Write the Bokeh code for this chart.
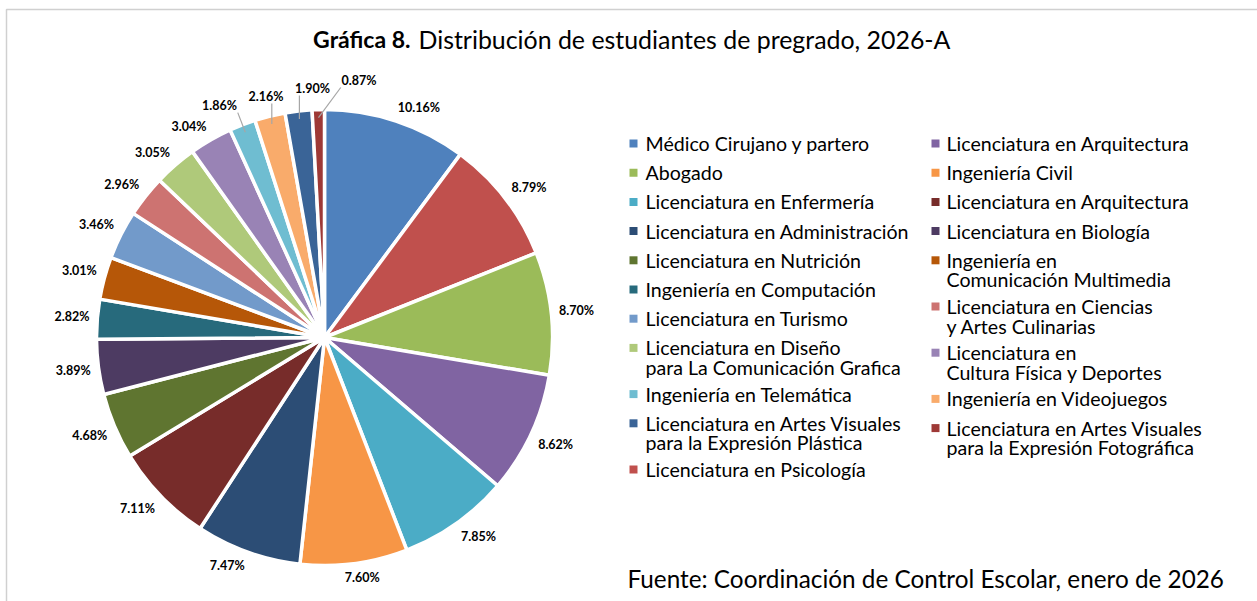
import numpy as np
from bokeh.plotting import figure
from bokeh.models import ColumnDataSource, Range1d
from bokeh.embed import file_html
from bokeh.resources import INLINE
from bokeh.core.properties import value

# ---------------- data ----------------
careers = [
    "Médico Cirujano y partero",
    "Licenciatura en Psicología",
    "Abogado",
    "Licenciatura en Arquitectura",
    "Licenciatura en Enfermería",
    "Ingeniería Civil",
    "Licenciatura en Administración",
    "Licenciatura en Arquitectura",
    "Licenciatura en Nutrición",
    "Licenciatura en Biología",
    "Ingeniería en Computación",
    "Ingeniería en\nComunicación Multimedia",
    "Licenciatura en Turismo",
    "Licenciatura en Ciencias\ny Artes Culinarias",
    "Licenciatura en Diseño\npara La Comunicación Grafica",
    "Licenciatura en\nCultura Física y Deportes",
    "Ingeniería en Telemática",
    "Ingeniería en Videojuegos",
    "Licenciatura en Artes Visuales\npara la Expresión Plástica",
    "Licenciatura en Artes Visuales\npara la Expresión Fotográfica",
]
shares = [10.16, 8.79, 8.70, 8.62, 7.85, 7.60, 7.47, 7.11, 4.68, 3.89,
          2.82, 3.01, 3.46, 2.96, 3.05, 3.04, 1.86, 2.16, 1.90, 0.87]
colors = ["#4F81BD", "#C0504D", "#9BBB59", "#8064A2", "#4BACC6", "#F79646",
          "#2C4D75", "#772C2A", "#5F7530", "#4D3B62", "#276A7C", "#B65708",
          "#729ACA", "#CD7371", "#AFC97A", "#9983B5", "#6FBDD1", "#F9AB6B",
          "#3A6497", "#9E3936"]
legend_left = [0, 2, 4, 6, 8, 10, 12, 14, 16, 18, 1]
legend_right = [3, 5, 7, 9, 11, 13, 15, 17, 19]
title_bold = "Gráfica 8."
title_rest = "Distribución de estudiantes de pregrado, 2026-A"
source_note = "Fuente: Coordinación de Control Escolar, enero de 2026"

# ---------------- layout ----------------
W, H = 1257, 601
FONT = value("Lato")


def X(px):
    return px


def Y(py):
    return H - py


p = figure(width=W, height=H, x_range=Range1d(0, W), y_range=Range1d(0, H),
           output_backend="svg", toolbar_location=None, min_border=0)
p.axis.visible = False
p.grid.visible = False
p.outline_line_color = None
p.background_fill_color = "white"
p.border_fill_color = "white"

# chart frame (left and top edges visible as in the reference)
p.quad(left=[X(6)], right=[X(W + 40)], top=[Y(9)], bottom=[Y(H + 40)],
       fill_color=None, line_color="#D0D0D0", line_width=1.5)

# pie
cx, cy, R = X(324), Y(337), 228
vals = np.array(shares, dtype=float)
frac = vals / vals.sum()
cum = np.concatenate([[0.0], np.cumsum(frac)])
start = np.pi / 2 - 2 * np.pi * cum[:-1]
end = np.pi / 2 - 2 * np.pi * cum[1:]
pie_src = ColumnDataSource(dict(start=start, end=end, color=colors))
p.wedge(x=cx, y=cy, radius=R, start_angle="start", end_angle="end",
        direction="clock", fill_color="color", line_color="white",
        line_width=3.5, source=pie_src)

# data labels
mid = np.pi / 2 - 2 * np.pi * (cum[:-1] + frac / 2)
dx, dy = np.cos(mid), np.sin(mid)
texts = [f"{v:.2f}%" for v in shares]
hw = np.array([len(t) * 3.65 for t in texts])
hh = 7.0
small = vals < 2.2
g = np.where(small, 13.0, 7.0)
ex, ey = cx + R * dx, cy + R * dy
lx = ex + g * dx + hw * np.clip(3 * dx, -1, 1)
ly = ey + g * dy + hh * np.clip(3 * dy, -1, 1)
prev = None
for i in range(len(vals)):
    if small[i]:
        if prev is not None:
            lx[i] = max(lx[i], lx[prev] + hw[prev] + hw[i] + 10)
            ly[i] = max(ly[i], ly[prev] + 8)
        prev = i
p.text(x=lx, y=ly, text=texts, text_align="center", text_baseline="middle",
       text_font=FONT, text_font_size="12.5px", text_font_style="bold",
       text_color="#000000")

# leader lines for displaced small labels
xs, ys = [], []
for i in np.where(small)[0]:
    sx, sy = cx + (R - 8) * dx[i], cy + (R - 8) * dy[i]
    bx = min(max(sx, lx[i] - hw[i]), lx[i] + hw[i])
    by = min(max(sy, ly[i] - hh), ly[i] + hh)
    xs.append([sx, bx])
    ys.append([sy, by])
p.multi_line(xs=xs, ys=ys, line_color="#A6A6A6", line_width=1.2)

# title
p.text(x=[X(410)], y=[Y(38)], text=[title_bold], text_align="right",
       text_baseline="middle", text_font=FONT, text_font_size="23px",
       text_font_style="bold", text_color="#000000")
p.text(x=[X(418)], y=[Y(38)], text=[title_rest], text_align="left",
       text_baseline="middle", text_font=FONT, text_font_size="24.9px",
       text_color="#000000")

# legend
mk_x, mk_y, mk_c = [], [], []
tx, ty, tt = [], [], []
for order, mx, txx in ((legend_left, 633, 645), (legend_right, 935, 946)):
    yy = 143.0
    for idx in order:
        lines = careers[idx].split("\n")
        mk_x.append(X(mx))
        mk_y.append(Y(yy))
        mk_c.append(colors[idx])
        for k, ln in enumerate(lines):
            tx.append(X(txx))
            ty.append(Y(yy + 19.5 * k))
            tt.append(ln)
        yy += 29.2 + 17.0 * (len(lines) - 1)
p.scatter(x=mk_x, y=mk_y, marker="square", size=8, fill_color=mk_c,
          line_color=None)
p.text(x=tx, y=ty, text=tt, text_align="left", text_baseline="middle",
       text_font=FONT, text_font_size="19.6px", text_color="#000000")

# source note
p.text(x=[X(627)], y=[Y(578)], text=[source_note], text_align="left",
       text_baseline="middle", text_font=FONT, text_font_size="24.3px",
       text_color="#000000")

open("out.html", "w").write(file_html(p, INLINE))
